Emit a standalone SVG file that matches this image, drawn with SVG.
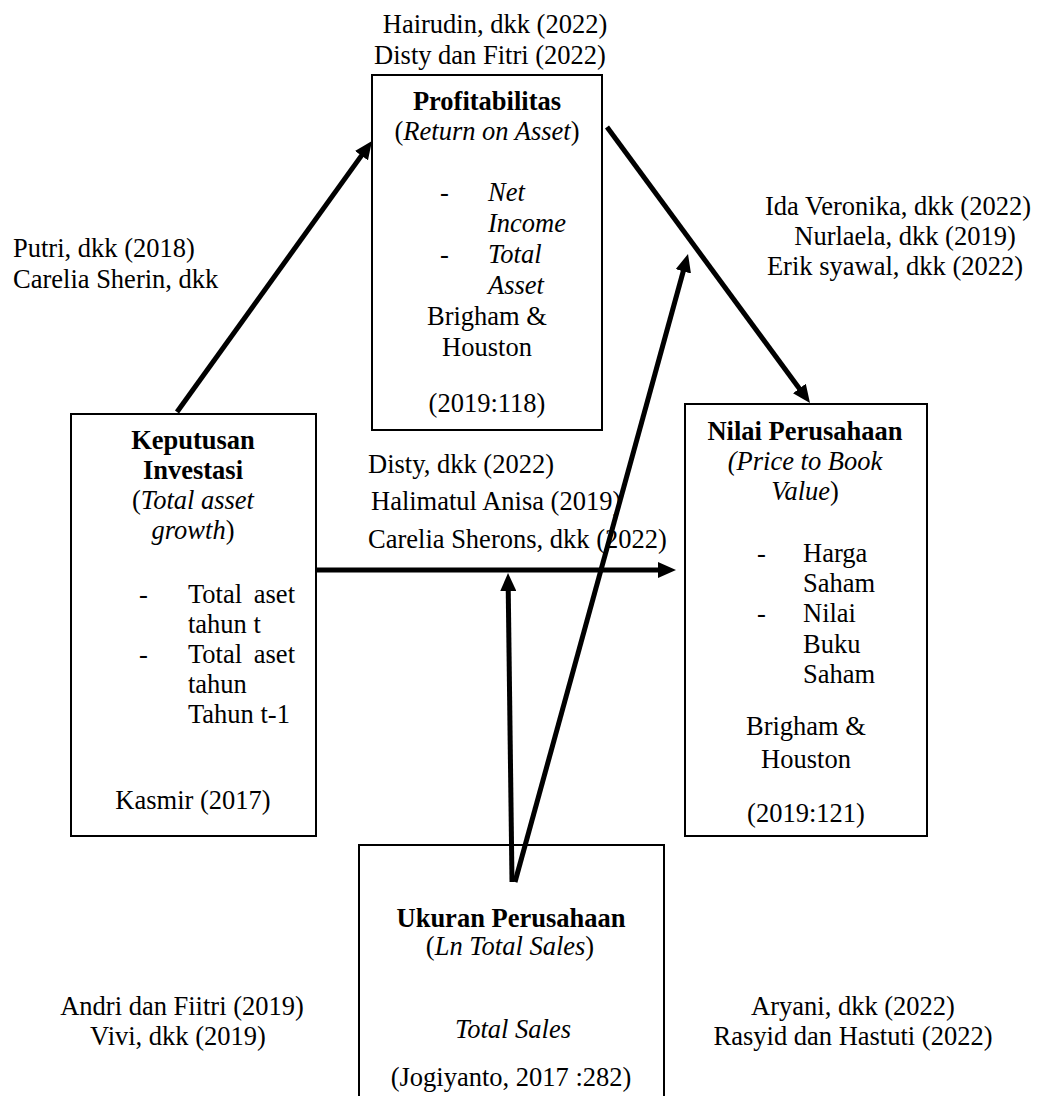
<svg xmlns="http://www.w3.org/2000/svg" width="1044" height="1096" viewBox="0 0 1044 1096">
<defs>
<style>
text{font-family:"Liberation Serif","Times New Roman",serif;font-size:26.5px;fill:#000}
.b{font-weight:bold}
.i{font-style:italic}
.m{text-anchor:middle}
.box{fill:#fff;stroke:#000;stroke-width:2}
.con{stroke:#000;stroke-width:5;fill:none;marker-end:url(#ah)}
</style>
<marker id="ah" markerUnits="userSpaceOnUse" markerWidth="18" markerHeight="16" viewBox="0 0 18 16" refX="4" refY="8" orient="auto">
<path d="M0,0 L18,8 L0,16 z" fill="#000"/>
</marker>
</defs>
<rect width="1044" height="1096" fill="#fff"/>

<g id="labels">
<text class="m" x="495" y="33">Hairudin, dkk (2022)</text>
<text class="m" x="490" y="64">Disty dan Fitri (2022)</text>
<text x="13" y="257">Putri, dkk (2018)</text>
<text x="13" y="288">Carelia Sherin, dkk</text>
<text class="m" x="898" y="215">Ida Veronika, dkk (2022)</text>
<text class="m" x="905" y="245">Nurlaela, dkk (2019)</text>
<text class="m" x="895" y="275">Erik syawal, dkk (2022)</text>
<text x="368" y="473">Disty, dkk (2022)</text>
<text x="371" y="510">Halimatul Anisa (2019)</text>
<text x="368" y="548">Carelia Sherons, dkk (2022)</text>
<text class="m" x="182" y="1015">Andri dan Fiitri (2019)</text>
<text class="m" x="178" y="1045">Vivi, dkk (2019)</text>
<text class="m" x="853" y="1015">Aryani, dkk (2022)</text>
<text class="m" x="853" y="1045">Rasyid dan Hastuti (2022)</text>
</g>

<g id="profitabilitas">
<rect class="box" x="372" y="75" width="230" height="355"/>
<text class="m b" x="487" y="110">Profitabilitas</text>
<text class="m" x="487" y="140">(<tspan class="i">Return on Asset</tspan>)</text>
<text x="440" y="201">-</text>
<text class="i" x="488" y="201">Net</text>
<text class="i" x="488" y="232">Income</text>
<text x="440" y="263">-</text>
<text class="i" x="488" y="263">Total</text>
<text class="i" x="488" y="294">Asset</text>
<text class="m" x="487" y="325">Brigham &amp;</text>
<text class="m" x="487" y="356">Houston</text>
<text class="m" x="487" y="412">(2019:118)</text>
</g>

<g id="keputusan-investasi">
<rect class="box" x="71" y="414" width="245" height="422"/>
<text class="m b" x="193" y="449">Keputusan</text>
<text class="m b" x="193" y="479">Investasi</text>
<text class="m" x="193" y="509">(<tspan class="i">Total asset</tspan></text>
<text class="m" x="193" y="539"><tspan class="i">growth</tspan>)</text>
<text x="139" y="603">-</text>
<text y="603"><tspan x="188">Total</tspan><tspan x="295" text-anchor="end">aset</tspan></text>
<text x="188" y="633">tahun t</text>
<text x="139" y="663">-</text>
<text y="663"><tspan x="188">Total</tspan><tspan x="295" text-anchor="end">aset</tspan></text>
<text x="188" y="693">tahun</text>
<text x="188" y="723">Tahun t-1</text>
<text class="m" x="193" y="809">Kasmir (2017)</text>
</g>

<g id="nilai-perusahaan">
<rect class="box" x="685" y="404" width="242" height="432"/>
<text class="m b" x="805" y="440">Nilai Perusahaan</text>
<text class="m i" x="805" y="470">(Price to Book</text>
<text class="m" x="805" y="500"><tspan class="i">Value</tspan>)</text>
<text x="757" y="562">-</text>
<text x="803" y="562">Harga</text>
<text x="803" y="592">Saham</text>
<text x="757" y="622">-</text>
<text x="803" y="622">Nilai</text>
<text x="803" y="653">Buku</text>
<text x="803" y="683">Saham</text>
<text class="m" x="806" y="735">Brigham &amp;</text>
<text class="m" x="806" y="768">Houston</text>
<text class="m" x="806" y="822">(2019:121)</text>
</g>

<g id="ukuran-perusahaan">
<rect class="box" x="359" y="845" width="305" height="300"/>
<text class="m b" x="511" y="927">Ukuran Perusahaan</text>
<text class="m" x="510" y="955">(<tspan class="i">Ln Total Sales</tspan>)</text>
<text class="m i" x="513" y="1038">Total Sales</text>
<text class="m" x="511" y="1086">(Jogiyanto, 2017 :282)</text>
</g>

<g id="connectors">
<line class="con" x1="177" y1="412" x2="363.8" y2="152.4"/>
<line class="con" x1="607" y1="127" x2="801.7" y2="391.7"/>
<line class="con" x1="316" y1="570" x2="662" y2="570"/>
<line class="con" x1="512" y1="882" x2="508.2" y2="587"/>
<line class="con" x1="515" y1="882" x2="684.3" y2="267.5"/>
</g>
</svg>
